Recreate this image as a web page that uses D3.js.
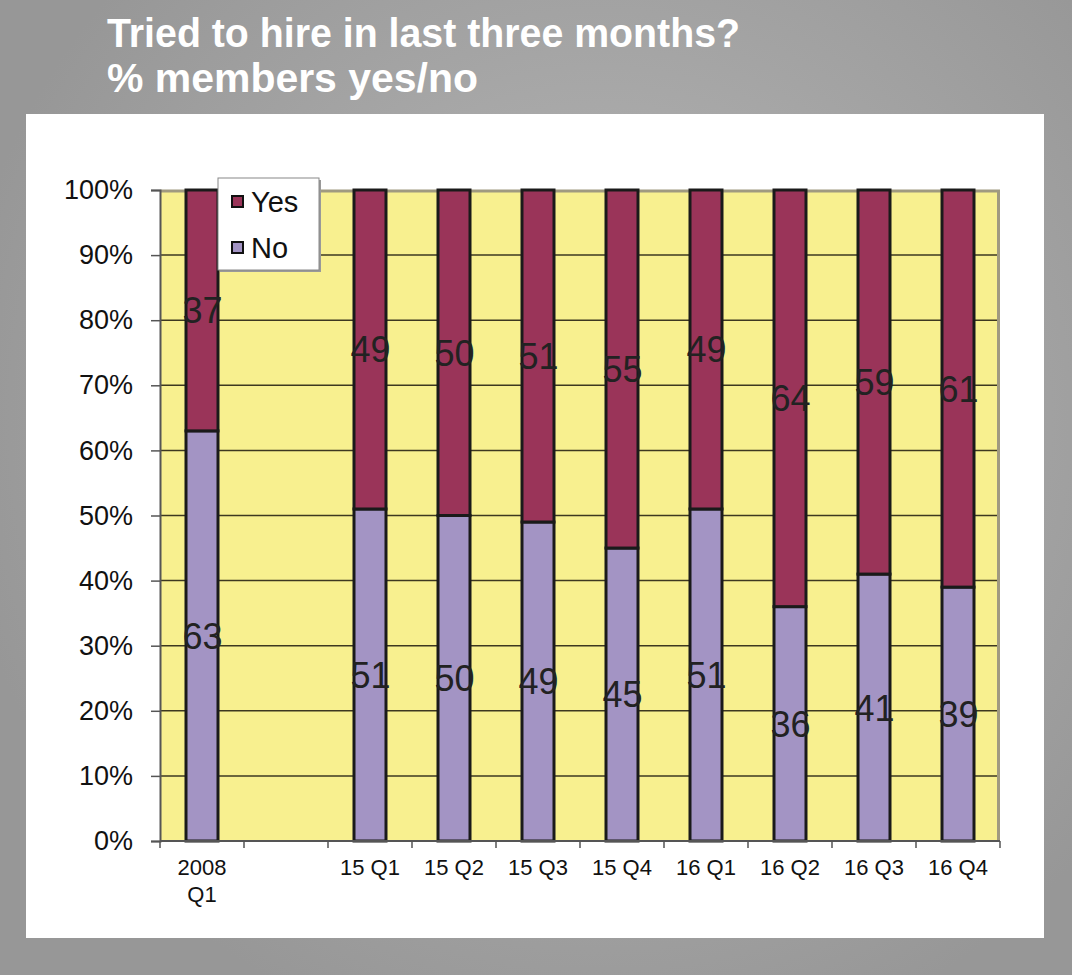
<!DOCTYPE html>
<html>
<head>
<meta charset="utf-8">
<script src="https://cdn.jsdelivr.net/npm/d3@7"></script>
<style>
  html, body { margin: 0; padding: 0; background: #999; }
  svg { display: block; }
</style>
</head>
<body>
<svg id="chart" width="1072" height="975"></svg>
<script>
const categories = ["2008 Q1", "", "15 Q1", "15 Q2", "15 Q3", "15 Q4", "16 Q1", "16 Q2", "16 Q3", "16 Q4"];
const noValues  = [63, null, 51, 50, 49, 45, 51, 36, 41, 39];
const yesValues = [37, null, 49, 50, 51, 55, 49, 64, 59, 61];
const yTicks = [0, 10, 20, 30, 40, 50, 60, 70, 80, 90, 100];
const seriesNames = ["Yes", "No"];
const titleLines = ["Tried to hire in last three months?", "% members yes/no"];

const colors = { Yes: "#9a3459", No: "#a394c4" };

const svg = d3.select("#chart");
const W = 1072, H = 975;

// background gradient
const defs = svg.append("defs");
const rg = defs.append("radialGradient").attr("id", "bg")
  .attr("gradientUnits", "userSpaceOnUse")
  .attr("cx", 600).attr("cy", 420).attr("r", 650);
rg.append("stop").attr("offset", "0").attr("stop-color", "#b9b9b9");
rg.append("stop").attr("offset", "0.6").attr("stop-color", "#a4a4a4");
rg.append("stop").attr("offset", "1").attr("stop-color", "#979797");
svg.append("rect").attr("width", W).attr("height", H).attr("fill", "url(#bg)");

// title
const titleFont = "'Liberation Sans Narrow', 'Arial Narrow', 'Liberation Sans', Arial, sans-serif";
const tl = [{t: titleLines[0], y: 47, w: 633}, {t: titleLines[1], y: 92, w: 371}];
tl.forEach(d => {
  svg.append("text")
    .attr("x", 107).attr("y", d.y)
    .attr("fill", "#ffffff")
    .attr("font-family", titleFont)
    .attr("font-weight", "bold")
    .attr("font-size", 41)
    .attr("textLength", d.w)
    .attr("lengthAdjust", "spacingAndGlyphs")
    .text(d.t);
});

// white panel
svg.append("rect").attr("x", 26).attr("y", 114).attr("width", 1018).attr("height", 824).attr("fill", "#ffffff");

// plot area
const plot = { left: 160, right: 1000, top: 190, bottom: 841 };
const x = d3.scaleBand().domain(d3.range(categories.length)).range([plot.left, plot.right]).paddingInner(0).paddingOuter(0);
const y = d3.scaleLinear().domain([0, 100]).range([plot.bottom, plot.top]);

svg.append("rect")
  .attr("x", plot.left).attr("y", plot.top)
  .attr("width", plot.right - plot.left).attr("height", plot.bottom - plot.top)
  .attr("fill", "#f8f08f");
// shadow border top & right
svg.append("path")
  .attr("d", `M${plot.left},${plot.top + 1}H${plot.right - 1.5}V${plot.bottom}`)
  .attr("fill", "none").attr("stroke", "#a09a80").attr("stroke-width", 3);

// gridlines
svg.append("g").selectAll("line").data(yTicks.filter(t => t > 0 && t < 100)).join("line")
  .attr("x1", plot.left).attr("x2", plot.right - 3)
  .attr("y1", d => y(d)).attr("y2", d => y(d))
  .attr("stroke", "#3d3820").attr("stroke-width", 1.5);

// bars
const bw = 32;
const stackData = categories.map((c, i) => ({ i, no: noValues[i], yes: yesValues[i] })).filter(d => d.no != null);
const barG = svg.append("g");
stackData.forEach(d => {
  const cx = x(d.i) + x.bandwidth() / 2;
  const segs = [
    { name: "No", y0: 0, y1: d.no, v: d.no },
    { name: "Yes", y0: d.no, y1: d.no + d.yes, v: d.yes }
  ];
  segs.forEach(s => {
    barG.append("rect")
      .attr("x", cx - bw / 2).attr("width", bw)
      .attr("y", y(s.y1)).attr("height", y(s.y0) - y(s.y1))
      .attr("fill", colors[s.name])
      .attr("stroke", "#1a1a1a").attr("stroke-width", 3);
  });
  segs.forEach(s => {
    barG.append("text")
      .attr("x", cx + 0.5).attr("y", (y(s.y0) + y(s.y1)) / 2)
      .attr("dy", "0.36em")
      .attr("text-anchor", "middle")
      .attr("font-family", "'Liberation Sans', Arial, sans-serif")
      .attr("font-size", 36)
      .attr("fill", "#222")
      .text(s.v);
  });
});

// y axis
const yAxis = svg.append("g").attr("transform", `translate(${plot.left},0)`)
  .call(d3.axisLeft(y).tickValues(yTicks).tickFormat(d => d + "%").tickSize(9).tickPadding(18));
yAxis.select(".domain").attr("stroke", "#555").attr("stroke-width", 2);
yAxis.selectAll(".tick line").attr("stroke", "#555").attr("stroke-width", 1.5);
yAxis.selectAll(".tick text")
  .attr("font-family", "'Liberation Sans', Arial, sans-serif")
  .attr("font-size", 27).attr("fill", "#111");

// x axis
const xAxisG = svg.append("g").attr("transform", `translate(0,${plot.bottom})`);
xAxisG.append("line").attr("x1", plot.left).attr("x2", plot.right)
  .attr("y1", 0).attr("y2", 0).attr("stroke", "#555").attr("stroke-width", 2);
xAxisG.selectAll("line.tk").data(d3.range(categories.length + 1)).join("line")
  .attr("class", "tk")
  .attr("x1", d => plot.left + d * x.bandwidth()).attr("x2", d => plot.left + d * x.bandwidth())
  .attr("y1", 0).attr("y2", 7).attr("stroke", "#555").attr("stroke-width", 1.5);
categories.forEach((c, i) => {
  if (!c) return;
  const cx = x(i) + x.bandwidth() / 2;
  const parts = i === 0 ? c.split(" ") : [c];
  parts.forEach((p, k) => {
    xAxisG.append("text")
      .attr("x", cx).attr("y", 34 + k * 27)
      .attr("text-anchor", "middle")
      .attr("font-family", "'Liberation Sans', Arial, sans-serif")
      .attr("font-size", 22).attr("fill", "#111")
      .text(p);
  });
});

// legend
const lg = svg.append("g");
lg.append("rect").attr("x", 220).attr("y", 180).attr("width", 101).attr("height", 92).attr("fill", "#999");
lg.append("rect").attr("x", 218).attr("y", 178).attr("width", 101).attr("height", 92)
  .attr("fill", "#ffffff").attr("stroke", "#888").attr("stroke-width", 1);
seriesNames.forEach((n, k) => {
  const cy = 202 + k * 46;
  lg.append("rect").attr("x", 232).attr("y", cy - 6).attr("width", 11).attr("height", 11)
    .attr("fill", colors[n]).attr("stroke", "#111").attr("stroke-width", 2);
  lg.append("text").attr("x", 251).attr("y", cy).attr("dy", "0.36em")
    .attr("font-family", "'Liberation Sans', Arial, sans-serif")
    .attr("font-size", 29).attr("fill", "#111")
    .text(n);
});
</script>
</body>
</html>
